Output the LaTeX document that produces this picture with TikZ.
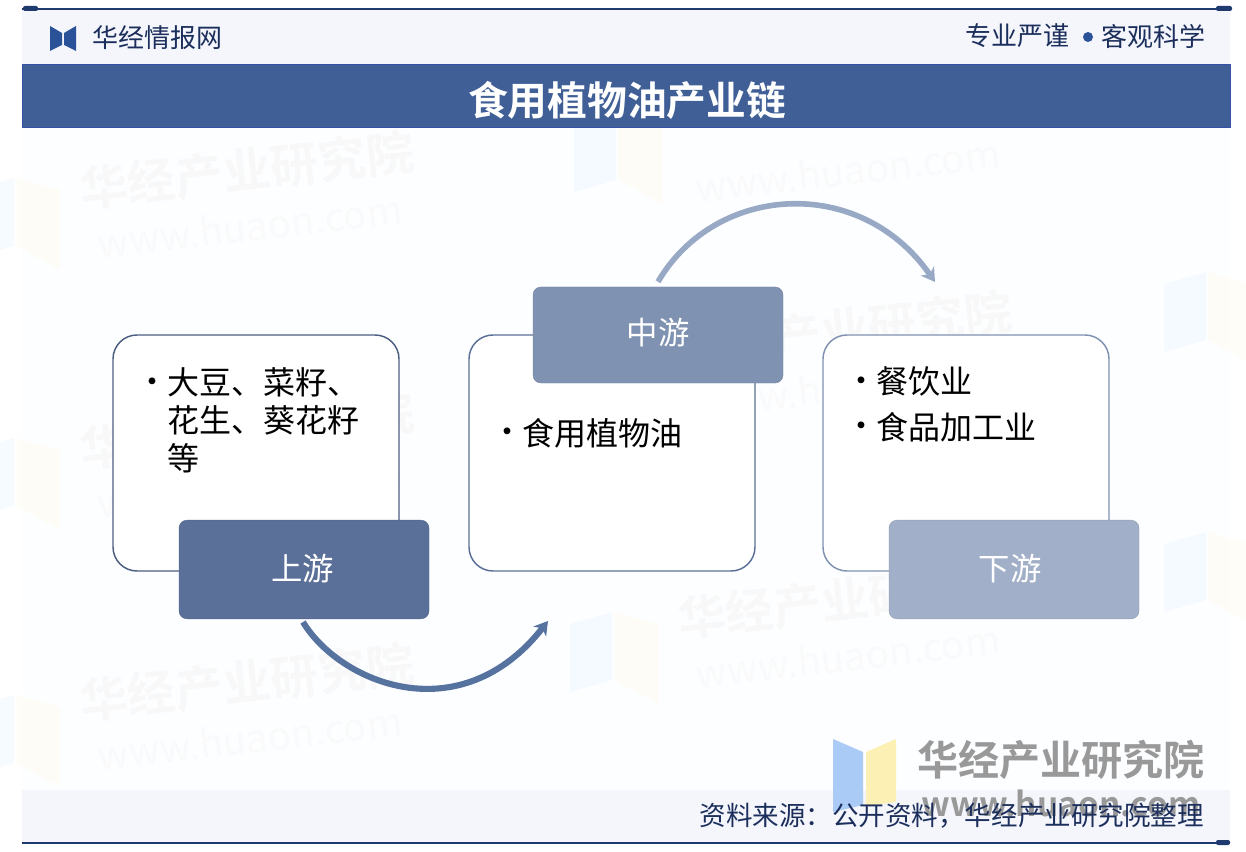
\documentclass[tikz,border=0pt]{standalone}
\usepackage{fontspec}
\setmainfont{Noto Sans CJK SC}
\newfontfamily\cjkb{Noto Sans CJK SC Bold}
\usetikzlibrary{arrows.meta,calc}
\definecolor{titlebar}{HTML}{3F5F96}
\definecolor{navy}{HTML}{1F3A6E}
\definecolor{inktext}{HTML}{1C2F5C}
\definecolor{upbox}{HTML}{5B7098}
\definecolor{midbox}{HTML}{7F92B2}
\definecolor{downbox}{HTML}{A1AFC8}
\definecolor{arrowlight}{HTML}{98A9C6}
\definecolor{arrowdark}{HTML}{56729F}
\definecolor{pagetint}{HTML}{FDFEFF}
\definecolor{bandtint}{HTML}{F4F6FB}
\definecolor{markblue}{HTML}{2A5298}
\definecolor{logoblue}{HTML}{A9CBF5}
\definecolor{logoyellow}{HTML}{FDF0B4}
\tikzset{
  x=0.75pt,y=-0.75pt,
  frameBox/.style={draw=#1,line width=1.1pt,fill=white,rounded corners=18pt,inner sep=0pt,minimum width=214.5pt,minimum height=177pt},
  tagBox/.style={fill=#1,draw=#1!90!black,line width=0.3pt,rounded corners=6pt,inner sep=0pt,text=white,font=\fontsize{23.5}{23.5}\selectfont},
  bodyText/.style={anchor=west,inner sep=0pt,text=black,font=\fontsize{24}{24}\selectfont},
  bulletText/.style={anchor=center,inner sep=0pt,text=black,font=\fontsize{24}{24}\selectfont},
  headText/.style={anchor=center,inner sep=0pt,text=inktext,font=\fontsize{19.5}{19.5}\selectfont},
  endDot/.style={fill=navy,rounded corners=1.5pt},
  wmText/.style={inner sep=0pt,text=black!2.8,rotate=6.5,font=\cjkb\fontsize{36}{36}\selectfont},
  wmUrl/.style={inner sep=0pt,text=black!1.8,rotate=6.5,font=\fontsize{29}{29}\selectfont},
  wmBlue/.style={fill=blue!35!cyan,opacity=0.035},
  wmYellow/.style={fill=yellow!80!orange,opacity=0.03},
  curveArrow/.style={line width=#1,-{Stealth[length=10pt,width=12pt,inset=3pt]}},
}
\begin{document}
\begin{tikzpicture}
\useasboundingbox (0,0) rectangle (1246,852);
\fill[white] (0,0) rectangle (1246,852);
\fill[pagetint] (22,10) rectangle (1230,842);
\fill[bandtint] (22,10) rectangle (1230,65);
\fill[bandtint] (22,790) rectangle (1230,842);
% watermarks
\foreach \cx/\cy in {247/170,247/430,247/682,845/600,845/330}{
  \node[wmText] at (\cx,\cy) {华经产业研究院};
  \node[wmUrl] at (\cx+3,\cy+56) {www.huaon.com};
}
\node[wmUrl] at (848,170) {www.huaon.com};
\foreach \ox/\oy in {-28/178,-28/438,-28/695,570/612,1164/272,1164/532,574/112}{
  \fill[wmBlue] (\ox,\oy+12) -- (\ox+42,\oy) -- (\ox+42,\oy+68) -- (\ox,\oy+80) -- cycle;
  \fill[wmYellow] (\ox+44,\oy) -- (\ox+88,\oy+12) -- (\ox+88,\oy+92) -- (\ox+44,\oy+68) -- cycle;
}
% header rules
\coordinate (topL) at (22,9); \coordinate (topR) at (1230,9);
\coordinate (botL) at (22,843); \coordinate (botR) at (1230,843);
\draw[navy,line width=0.9pt] (topL) -- (topR);
\draw[navy,line width=0.9pt] (botL) -- (botR);
\fill[endDot] (23,6) rectangle (38,11);
\fill[endDot] (1216,6) rectangle (1232,11);
\fill[endDot] (1216,840) rectangle (1230,845);
% logo
\fill[markblue] (50,26) -- (62,33) -- (62,45) -- (50,51) -- cycle;
\fill[markblue] (64,33) -- (76,26) -- (76,51) -- (64,45) -- cycle;
\node[headText] (brand) at (157,38) {华经情报网};
\node[headText,anchor=east] (mottoA) at (1070,36) {专业严谨};
\fill[markblue] (1088,37) circle[radius=5];
\node[headText,anchor=east] (mottoB) at (1206,36) {客观科学};
% title
\node[fill=titlebar,draw=titlebar!85!blue,line width=0.4pt,inner sep=0pt,minimum width=906pt,minimum height=47pt] (titlebarbox) at (626,96) {};
\node[inner sep=0pt,text=white,font=\cjkb\fontsize{29.8}{29.8}\selectfont] (title) at (627,100) {食用植物油产业链};
% frames
\node[frameBox=upbox!85!black] (upFrame) at (256,453) {};
\node[frameBox=upbox] (midFrame) at (612,453) {};
\node[frameBox=midbox] (downFrame) at (966,453) {};
% tags
\node[tagBox=upbox,minimum width=187.5pt,minimum height=74pt] (upTag) at (304,569.5) {\raisebox{4pt}{\hspace*{-2pt}上游}};
\node[tagBox=midbox,minimum width=187.5pt,minimum height=72pt] (midTag) at (658,335) {\raisebox{5pt}{中游}};
\node[tagBox=downbox,minimum width=187.5pt,minimum height=74pt] (downTag) at (1014,569.5) {\raisebox{4pt}{下游}\hspace*{6pt}};
% body text
\node[bulletText] (upB1) at (152,386) {•};
\node[bodyText] (upL1) at (167,382) {大豆、菜籽、};
\node[bodyText] (upL2) at (167,420) {花生、葵花籽};
\node[bodyText] (upL3) at (167,458) {等};
\node[bulletText] (midB1) at (507,436) {•};
\node[bodyText] (midL1) at (522,433) {食用植物油};
\node[bulletText] (downB1) at (861,385) {•};
\node[bodyText] (downL1) at (876,381) {餐饮业};
\node[bulletText] (downB2) at (861,430) {•};
\node[bodyText] (downL2) at (876,427) {食品加工业};
% curved connectors
\coordinate (endLow) at (548,621);
\coordinate (endHigh) at (935,282);
\draw[arrowdark,curveArrow=4.6pt] ($(upTag.south)+(-1,3)$) .. controls (340,683) and (460,733) .. (endLow);
\draw[arrowlight,curveArrow=4.2pt] ($(midTag.north)+(0,-5)$) .. controls (715,184) and (860,174) .. (endHigh);
% footer logo
\fill[logoblue] (833,739) -- (863,752) -- (863,805) -- (833,812) -- cycle;
\fill[logoyellow] (866,752) -- (896,739) -- (896,802) -- (866,806) -- cycle;
\node[inner sep=0pt,text=black!40,font=\cjkb\fontsize{30.8}{30.8}\selectfont] (wmMain) at (1061,760) {华经产业研究院};
\node[inner sep=0pt,text=black!40,font=\cjkb\fontsize{25}{25}\selectfont] (wmSite) at (1061,803) {www.huaon.com};
\node[headText,anchor=east,font=\fontsize{19.9}{19.9}\selectfont] (source) at (1204,816) {资料来源：公开资料，华经产业研究院整理};
\end{tikzpicture}
\end{document}
